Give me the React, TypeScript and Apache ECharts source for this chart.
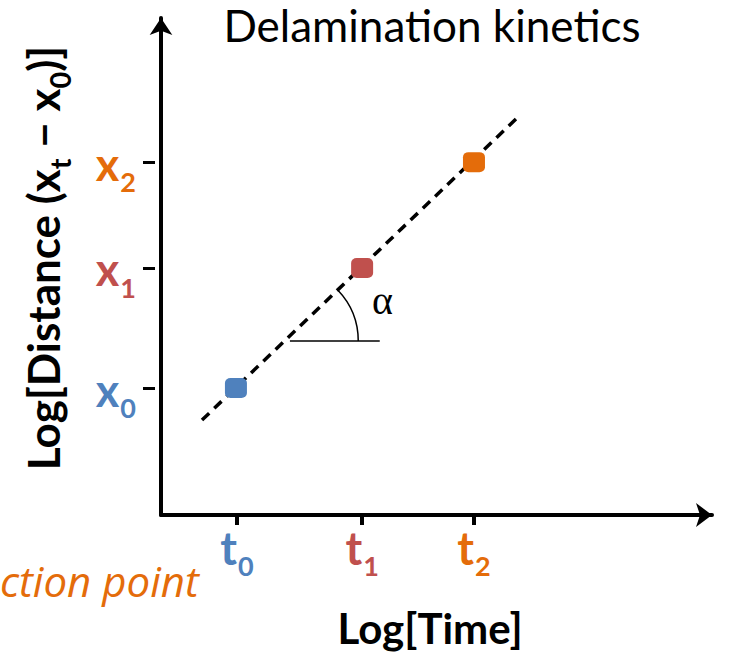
import React, { useEffect, useRef } from "react";
import * as echarts from "echarts";

const timeTicks = [1.38, 3.65, 5.68];
const timeSubs = ["0", "1", "2"];
const distTicks = [2.555, 4.97, 7.1];
const distSubs = ["0", "1", "2"];
const pointColors = ["#4F81BD", "#C0504D", "#E46C0A"];
const pointsX = [1.36, 3.65, 5.68];
const pointsY = [2.555, 4.97, 7.1];
const fitLineX = [0.744, 6.5];
const fitLineY = [1.91, 8.03];
// angle annotation: [vertexX, y, arcEndX, lineStartX, lineEndX]
const angleMark = [2.24, 3.5, 3.58, 2.34, 3.97];
const alphaPos = [4.02, 4.32];

const FONT = "Lato, 'Open Sans', sans-serif";

function nearestIndex(arr: number[], v: number) {
  let best = 0;
  for (let i = 1; i < arr.length; i++) if (Math.abs(arr[i] - v) < Math.abs(arr[best] - v)) best = i;
  return best;
}

function buildRich() {
  const rich: any = {};
  pointColors.forEach((c, i) => {
    rich["m" + i] = { color: c, fontSize: 45, fontWeight: "bold", fontFamily: FONT, lineHeight: 48, verticalAlign: "bottom" };
    rich["s" + i] = { color: c, fontSize: 27, fontWeight: "bold", fontFamily: FONT, lineHeight: 48, verticalAlign: "bottom", padding: [0, 0, -9, 1] };
  });
  return rich;
}

export default function App() {
  const ref = useRef<HTMLDivElement>(null);
  useEffect(() => {
    document.body.style.margin = "0";
    const chart = echarts.init(ref.current!, null, { renderer: "svg" });
    const option: any = {
      animation: false,
      grid: { left: 161, right: 20, top: 18, bottom: 142 },
      xAxis: {
        type: "value",
        min: 0,
        max: 10,
        axisLine: { show: true, symbol: ["none", "arrow"], symbolSize: [18, 16], lineStyle: { color: "#000", width: 4 } },
        splitLine: { show: false },
        axisTick: { show: true, customValues: timeTicks, length: 10, lineStyle: { color: "#000", width: 4 } },
        axisLabel: {
          customValues: timeTicks,
          margin: 7,
          formatter: (v: number) => {
            const i = nearestIndex(timeTicks, v);
            return `{m${i}|t}{s${i}|${timeSubs[i]}}`;
          },
          rich: buildRich(),
        },
      },
      yAxis: {
        type: "value",
        min: 0,
        max: 10,
        axisLine: { show: true, symbol: ["none", "arrow"], symbolSize: [17, 17], lineStyle: { color: "#000", width: 4 } },
        splitLine: { show: false },
        axisTick: { show: true, customValues: distTicks, length: 18, lineStyle: { color: "#000", width: 3, type: [0, 6, 12, 100] } },
        axisLabel: {
          customValues: distTicks,
          margin: 25,
          formatter: (v: number) => {
            const i = nearestIndex(distTicks, v);
            return `{m${i}|x}{s${i}|${distSubs[i]}}`;
          },
          rich: buildRich(),
        },
      },
      series: [
        {
          type: "line",
          data: fitLineX.map((x, i) => [x, fitLineY[i]]),
          showSymbol: false,
          lineStyle: { color: "#000", width: 3.5, type: [10, 7] },
          z: 2,
        },
        {
          type: "scatter",
          symbol: "roundRect",
          symbolSize: [22, 20],
          data: pointsX.map((x, i) => ({ value: [x, pointsY[i]], itemStyle: { color: pointColors[i], opacity: 1 } })),
          itemStyle: { opacity: 1 },
          z: 3,
        },
        {
          type: "custom",
          data: [angleMark],
          renderItem: (params: any, api: any) => {
            const v = api.coord([api.value(0), api.value(1)]);
            const e = api.coord([api.value(2), api.value(1)]);
            const ls = api.coord([api.value(3), api.value(1)]);
            const le = api.coord([api.value(4), api.value(1)]);
            const p1 = api.coord([fitLineX[0], fitLineY[0]]);
            const p2 = api.coord([fitLineX[1], fitLineY[1]]);
            const ang = Math.atan2(p2[1] - p1[1], p2[0] - p1[0]);
            const a = api.coord(alphaPos);
            return {
              type: "group",
              children: [
                { type: "line", shape: { x1: ls[0], y1: ls[1], x2: le[0], y2: le[1] }, style: { stroke: "#000", lineWidth: 1.5 } },
                {
                  type: "arc",
                  shape: { cx: v[0], cy: v[1], r: e[0] - v[0], startAngle: ang, endAngle: 0, clockwise: true },
                  style: { stroke: "#000", lineWidth: 1.5, fill: "none" },
                },
                {
                  type: "text",
                  x: a[0],
                  y: a[1],
                  style: { text: "α", font: "40px 'Liberation Serif', serif", fill: "#000", align: "center", verticalAlign: "middle" },
                },
              ],
            };
          },
          z: 1,
        },
      ],
      graphic: [
        {
          type: "text",
          x: 432,
          y: 25,
          style: { text: "Delamination kinetics", font: `44px ${FONT}`, fill: "#000", align: "center", verticalAlign: "middle" },
        },
        {
          type: "text",
          x: 430,
          y: 628,
          style: { text: "Log[Time]", font: `bold 42px ${FONT}`, fill: "#000", align: "center", verticalAlign: "middle" },
        },
        {
          type: "text",
          x: 0,
          y: 580,
          style: { text: "ction point", font: "italic 42px 'Open Sans', sans-serif", fill: "#E46C0A", align: "left", verticalAlign: "middle" },
        },
        {
          type: "text",
          x: 40,
          y: 258,
          rotation: Math.PI / 2,
          style: {
            text: "{m|Log[Distance (x}{s|t}{m| − x}{s|0}{m|)]}",
            align: "center",
            verticalAlign: "middle",
            rich: {
              m: { fontSize: 44, fontWeight: "bold", fontFamily: FONT, fill: "#000", lineHeight: 50, verticalAlign: "bottom" },
              s: { fontSize: 29, fontWeight: "bold", fontFamily: FONT, fill: "#000", lineHeight: 50, verticalAlign: "bottom", padding: [0, 0, -9, 0] },
            },
          },
        },
      ],
    };
    chart.setOption(option);
    return () => chart.dispose();
  }, []);
  return <div ref={ref} style={{ width: 732, height: 657 }} />;
}
